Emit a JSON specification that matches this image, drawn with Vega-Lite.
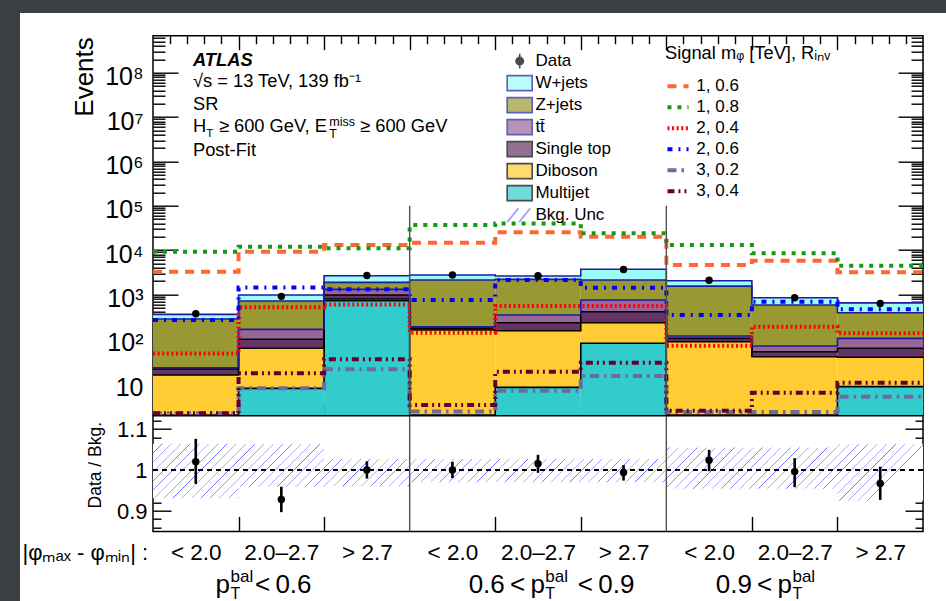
{
  "$schema": "https://vega.github.io/schema/vega-lite/v6.json",
  "background": "white",
  "padding": 0,
  "config": {
    "font": "Liberation Sans",
    "view": {"stroke": "black", "strokeWidth": 1.5},
    "axis": {"domain": false, "grid": false, "tickColor": "black", "tickWidth": 1.4, "labelColor": "black", "titleColor": "black", "labelFont": "Liberation Sans", "titleFont": "Liberation Sans", "titleFontWeight": "normal", "labelFlush": false, "labelOverlap": false, "labelBound": false},
    "legend": {"labelFont": "Liberation Sans", "titleFont": "Liberation Sans", "labelColor": "black", "titleColor": "black", "titleFontWeight": "normal", "padding": 0},
    "text": {"color": "black"}
  },
  "datasets": {
    "bkg": [
      {"lo": 0, "hi": 1, "entry": "Multijet", "n": 1.0},
      {"lo": 0, "hi": 1, "entry": "Diboson", "n": 14.4},
      {"lo": 0, "hi": 1, "entry": "Single top", "n": 5.6},
      {"lo": 0, "hi": 1, "entry": "tt\u0304", "n": 1.4},
      {"lo": 0, "hi": 1, "entry": "Z+jets", "n": 258.6},
      {"lo": 0, "hi": 1, "entry": "W+jets", "n": 77},
      {"lo": 1, "hi": 2, "entry": "Multijet", "n": 7.7},
      {"lo": 1, "hi": 2, "entry": "Diboson", "n": 53.7},
      {"lo": 1, "hi": 2, "entry": "Single top", "n": 36.6},
      {"lo": 1, "hi": 2, "entry": "tt\u0304", "n": 66},
      {"lo": 1, "hi": 2, "entry": "Z+jets", "n": 550},
      {"lo": 1, "hi": 2, "entry": "W+jets", "n": 261},
      {"lo": 2, "hi": 3, "entry": "Multijet", "n": 725},
      {"lo": 2, "hi": 3, "entry": "Diboson", "n": 67},
      {"lo": 2, "hi": 3, "entry": "Single top", "n": 183},
      {"lo": 2, "hi": 3, "entry": "tt\u0304", "n": 335},
      {"lo": 2, "hi": 3, "entry": "Z+jets", "n": 573},
      {"lo": 2, "hi": 3, "entry": "W+jets", "n": 767},
      {"lo": 3, "hi": 4, "entry": "Multijet", "n": 1.5},
      {"lo": 3, "hi": 4, "entry": "Diboson", "n": 157.5},
      {"lo": 3, "hi": 4, "entry": "Single top", "n": 16},
      {"lo": 3, "hi": 4, "entry": "tt\u0304", "n": 13},
      {"lo": 3, "hi": 4, "entry": "Z+jets", "n": 1932},
      {"lo": 3, "hi": 4, "entry": "W+jets", "n": 630},
      {"lo": 4, "hi": 5, "entry": "Multijet", "n": 8.1},
      {"lo": 4, "hi": 5, "entry": "Diboson", "n": 144.9},
      {"lo": 4, "hi": 5, "entry": "Single top", "n": 79},
      {"lo": 4, "hi": 5, "entry": "tt\u0304", "n": 113},
      {"lo": 4, "hi": 5, "entry": "Z+jets", "n": 1855},
      {"lo": 4, "hi": 5, "entry": "W+jets", "n": 410},
      {"lo": 5, "hi": 6, "entry": "Multijet", "n": 80},
      {"lo": 5, "hi": 6, "entry": "Diboson", "n": 152},
      {"lo": 5, "hi": 6, "entry": "Single top", "n": 178},
      {"lo": 5, "hi": 6, "entry": "tt\u0304", "n": 342},
      {"lo": 5, "hi": 6, "entry": "Z+jets", "n": 1368},
      {"lo": 5, "hi": 6, "entry": "W+jets", "n": 1580},
      {"lo": 6, "hi": 7, "entry": "Multijet", "n": 1.5},
      {"lo": 6, "hi": 7, "entry": "Diboson", "n": 85},
      {"lo": 6, "hi": 7, "entry": "Single top", "n": 16.5},
      {"lo": 6, "hi": 7, "entry": "tt\u0304", "n": 13},
      {"lo": 6, "hi": 7, "entry": "Z+jets", "n": 1434},
      {"lo": 6, "hi": 7, "entry": "W+jets", "n": 500},
      {"lo": 7, "hi": 8, "entry": "Multijet", "n": 1.5},
      {"lo": 7, "hi": 8, "entry": "Diboson", "n": 38.2},
      {"lo": 7, "hi": 8, "entry": "Single top", "n": 11.8},
      {"lo": 7, "hi": 8, "entry": "tt\u0304", "n": 17.5},
      {"lo": 7, "hi": 8, "entry": "Z+jets", "n": 512},
      {"lo": 7, "hi": 8, "entry": "W+jets", "n": 267},
      {"lo": 8, "hi": 9, "entry": "Multijet", "n": 8.4},
      {"lo": 8, "hi": 9, "entry": "Diboson", "n": 30.1},
      {"lo": 8, "hi": 9, "entry": "Single top", "n": 22.9},
      {"lo": 8, "hi": 9, "entry": "tt\u0304", "n": 41.6},
      {"lo": 8, "hi": 9, "entry": "Z+jets", "n": 286},
      {"lo": 8, "hi": 9, "entry": "W+jets", "n": 261}
    ],
    "signal": [
      {"lo": 0, "hi": 1, "signal": "1, 0.6", "n": 3270},
      {"lo": 1, "hi": 2, "signal": "1, 0.6", "n": 9200},
      {"lo": 2, "hi": 3, "signal": "1, 0.6", "n": 13000},
      {"lo": 3, "hi": 4, "signal": "1, 0.6", "n": 14700},
      {"lo": 4, "hi": 5, "signal": "1, 0.6", "n": 25200},
      {"lo": 5, "hi": 6, "signal": "1, 0.6", "n": 20000},
      {"lo": 6, "hi": 7, "signal": "1, 0.6", "n": 4610},
      {"lo": 7, "hi": 8, "signal": "1, 0.6", "n": 5770},
      {"lo": 8, "hi": 9, "signal": "1, 0.6", "n": 3160},
      {"lo": 0, "hi": 1, "signal": "1, 0.8", "n": 9200},
      {"lo": 1, "hi": 2, "signal": "1, 0.8", "n": 11900},
      {"lo": 2, "hi": 3, "signal": "1, 0.8", "n": 11000},
      {"lo": 3, "hi": 4, "signal": "1, 0.8", "n": 36700},
      {"lo": 4, "hi": 5, "signal": "1, 0.8", "n": 40100},
      {"lo": 5, "hi": 6, "signal": "1, 0.8", "n": 23900},
      {"lo": 6, "hi": 7, "signal": "1, 0.8", "n": 13000},
      {"lo": 7, "hi": 8, "signal": "1, 0.8", "n": 8470},
      {"lo": 8, "hi": 9, "signal": "1, 0.8", "n": 4450},
      {"lo": 0, "hi": 1, "signal": "2, 0.4", "n": 47},
      {"lo": 1, "hi": 2, "signal": "2, 0.4", "n": 515},
      {"lo": 2, "hi": 3, "signal": "2, 0.4", "n": 600},
      {"lo": 3, "hi": 4, "signal": "2, 0.4", "n": 138},
      {"lo": 4, "hi": 5, "signal": "2, 0.4", "n": 550},
      {"lo": 5, "hi": 6, "signal": "2, 0.4", "n": 550},
      {"lo": 6, "hi": 7, "signal": "2, 0.4", "n": 70},
      {"lo": 7, "hi": 8, "signal": "2, 0.4", "n": 188},
      {"lo": 8, "hi": 9, "signal": "2, 0.4", "n": 134},
      {"lo": 0, "hi": 1, "signal": "2, 0.6", "n": 267},
      {"lo": 1, "hi": 2, "signal": "2, 0.6", "n": 1450},
      {"lo": 2, "hi": 3, "signal": "2, 0.6", "n": 1310},
      {"lo": 3, "hi": 4, "signal": "2, 0.6", "n": 752},
      {"lo": 4, "hi": 5, "signal": "2, 0.6", "n": 2120},
      {"lo": 5, "hi": 6, "signal": "2, 0.6", "n": 1420},
      {"lo": 6, "hi": 7, "signal": "2, 0.6", "n": 345},
      {"lo": 7, "hi": 8, "signal": "2, 0.6", "n": 689},
      {"lo": 8, "hi": 9, "signal": "2, 0.6", "n": 464},
      {"lo": 0, "hi": 1, "signal": "3, 0.2", "n": 2.1},
      {"lo": 1, "hi": 2, "signal": "3, 0.2", "n": 7.7},
      {"lo": 2, "hi": 3, "signal": "3, 0.2", "n": 20.7},
      {"lo": 3, "hi": 4, "signal": "3, 0.2", "n": 2.3},
      {"lo": 4, "hi": 5, "signal": "3, 0.2", "n": 6.8},
      {"lo": 5, "hi": 6, "signal": "3, 0.2", "n": 14.6},
      {"lo": 6, "hi": 7, "signal": "3, 0.2", "n": 2.26},
      {"lo": 7, "hi": 8, "signal": "3, 0.2", "n": 2.26},
      {"lo": 8, "hi": 9, "signal": "3, 0.2", "n": 5.0},
      {"lo": 0, "hi": 1, "signal": "3, 0.4", "n": 2.1},
      {"lo": 1, "hi": 2, "signal": "3, 0.4", "n": 16.8},
      {"lo": 2, "hi": 3, "signal": "3, 0.4", "n": 34.8},
      {"lo": 3, "hi": 4, "signal": "3, 0.4", "n": 3.24},
      {"lo": 4, "hi": 5, "signal": "3, 0.4", "n": 18.2},
      {"lo": 5, "hi": 6, "signal": "3, 0.4", "n": 29.1},
      {"lo": 6, "hi": 7, "signal": "3, 0.4", "n": 2.4},
      {"lo": 7, "hi": 8, "signal": "3, 0.4", "n": 6.1},
      {"lo": 8, "hi": 9, "signal": "3, 0.4", "n": 10.3}
    ],
    "counts": [
      {"lo": 0, "hi": 1, "n": 370},
      {"lo": 1, "hi": 2, "n": 910},
      {"lo": 2, "hi": 3, "n": 2680},
      {"lo": 3, "hi": 4, "n": 2750},
      {"lo": 4, "hi": 5, "n": 2650},
      {"lo": 5, "hi": 6, "n": 3680},
      {"lo": 6, "hi": 7, "n": 2100},
      {"lo": 7, "hi": 8, "n": 845},
      {"lo": 8, "hi": 9, "n": 629}
    ],
    "ratio": [
      {"lo": 0, "hi": 1, "ratio": 1.02, "low": 0.966, "high": 1.076},
      {"lo": 1, "hi": 2, "ratio": 0.928, "low": 0.897, "high": 0.959},
      {"lo": 2, "hi": 3, "ratio": 1.0, "low": 0.979, "high": 1.021},
      {"lo": 3, "hi": 4, "ratio": 1.0, "low": 0.98, "high": 1.02},
      {"lo": 4, "hi": 5, "ratio": 1.015, "low": 0.993, "high": 1.037},
      {"lo": 5, "hi": 6, "ratio": 0.994, "low": 0.974, "high": 1.012},
      {"lo": 6, "hi": 7, "ratio": 1.024, "low": 0.997, "high": 1.049},
      {"lo": 7, "hi": 8, "ratio": 0.996, "low": 0.958, "high": 1.029},
      {"lo": 8, "hi": 9, "ratio": 0.967, "low": 0.927, "high": 1.008}
    ],
    "unc": [
      {"lo": 0, "hi": 1, "low": 0.931, "high": 1.064},
      {"lo": 1, "hi": 2, "low": 0.959, "high": 1.063},
      {"lo": 2, "hi": 3, "low": 0.96, "high": 1.027},
      {"lo": 3, "hi": 4, "low": 0.97, "high": 1.027},
      {"lo": 4, "hi": 5, "low": 0.97, "high": 1.027},
      {"lo": 5, "hi": 6, "low": 0.97, "high": 1.027},
      {"lo": 6, "hi": 7, "low": 0.954, "high": 1.055},
      {"lo": 7, "hi": 8, "low": 0.954, "high": 1.055},
      {"lo": 8, "hi": 9, "low": 0.925, "high": 1.063}
    ],
    "edges": [{"edge": 3}, {"edge": 6}]
  },
  "hconcat": [
    {"width": 20, "height": 601, "data": {"values": []}, "mark": "point", "view": {"fill": "#3d4043", "stroke": null}},
    {
      "vconcat": [
        {"width": 926, "height": 13, "data": {"values": []}, "mark": "point", "view": {"fill": "#3d4043", "stroke": null}},
        {
          "hconcat": [
            {"width": 1, "height": 1, "data": {"values": []}, "mark": "point", "view": {"fill": null, "stroke": null}},
            {
              "vconcat": [
                {
                  "width": 770,
                  "height": 379.3,
                  "layer": [
                    {
                      "data": {"name": "bkg"},
                      "transform": [{"stack": "n", "groupby": ["lo"], "as": ["s0", "s1"]}],
                      "mark": {"type": "rect", "clip": true},
                      "encoding": {
                        "x": {"field": "lo", "type": "quantitative", "scale": {"domain": [0, 9], "nice": false, "zero": false},
                              "axis": {"orient": "bottom", "values": [1, 2, 3, 4, 5, 6, 7, 8], "tickSize": -13, "labels": false, "title": null}},
                        "x2": {"field": "hi"},
                        "y": {"field": "s1", "type": "quantitative", "scale": {"type": "log", "domain": [1.93, 680000000], "nice": false, "clamp": true},
                              "axis": {"orient": "left", "values": [10, 100, 1000, 10000, 100000, 1000000, 10000000, 100000000], "ticks": false,
                                       "labelExpr": "round(log(datum.value)/LN10) == 1 ? '10' : '10' + ['⁰','¹','²','³','⁴','⁵','⁶','⁷','⁸','⁹'][round(log(datum.value)/LN10)]",
                                       "labelFontSize": 25, "labelPadding": 10, "labelBaseline": "alphabetic", "labelOffset": 12, "labelAlign": "right",
                                       "title": "Events", "titleFontSize": 26, "titleAngle": 270, "titleAlign": "right", "titleBaseline": "alphabetic", "titleX": -61, "titleY": 1}},
                        "y2": {"field": "s0"},
                        "fill": {"field": "entry", "type": "nominal",
                                 "scale": {"domain": ["Data", "W+jets", "Z+jets", "tt\u0304", "Single top", "Diboson", "Multijet", "Bkg. Unc"],
                                           "range": ["black", "#9cfcfc", "#999933", "#996699", "#663366", "#ffcc33", "#33cccc", "white"]},
                                 "legend": {"title": null, "orient": "none", "legendX": 508.7, "legendY": 50.1, "symbolSize": 384, "symbolStrokeWidth": 1.6, "labelFontSize": 17, "labelOffset": 4.7, "rowPadding": 0}}
                      }
                    },
                    {
                      "data": {"name": "bkg"},
                      "transform": [{"stack": "n", "groupby": ["lo"], "as": ["s0", "s1"]}, {"fold": ["lo", "hi"], "as": ["side", "edge"]}],
                      "mark": {"type": "line", "clip": true, "strokeWidth": 1.6},
                      "encoding": {
                        "x": {"field": "edge", "type": "quantitative",
                              "axis": {"orient": "bottom", "values": [0.2, 0.4, 0.6, 0.8, 1.2, 1.4, 1.6, 1.8, 2.2, 2.4, 2.6, 2.8, 3.2, 3.4, 3.6, 3.8, 4.2, 4.4, 4.6, 4.8, 5.2, 5.4, 5.6, 5.8, 6.2, 6.4, 6.6, 6.8, 7.2, 7.4, 7.6, 7.8, 8.2, 8.4, 8.6, 8.8], "tickSize": -7, "labels": false, "title": null}},
                        "y": {"field": "s1", "type": "quantitative",
                              "axis": {"orient": "left", "values": [10, 100, 1000, 10000, 100000, 1000000, 10000000, 100000000], "tickSize": -25, "labels": false, "title": null}},
                        "detail": {"field": "entry"},
                        "stroke": {"field": "entry", "type": "nominal",
                                   "scale": {"domain": ["Data", "W+jets", "Z+jets", "tt\u0304", "Single top", "Diboson", "Multijet", "Bkg. Unc"],
                                             "range": ["black", "#1c1c9c", "#1c1c9c", "#1c1c9c", "black", "black", "black", "#7373f2"]},
                                   "legend": {"title": null, "orient": "none", "legendX": 508.7, "legendY": 50.1, "symbolSize": 384, "symbolStrokeWidth": 1.6, "labelFontSize": 17, "labelOffset": 4.7, "rowPadding": 0}},
                        "order": [{"field": "edge", "type": "quantitative"}, {"field": "lo", "type": "quantitative"}]
                      }
                    },
                    {
                      "data": {"name": "signal"},
                      "transform": [{"fold": ["lo", "hi"], "as": ["side", "edge"]}],
                      "mark": {"type": "line", "clip": true, "strokeWidth": 4},
                      "encoding": {
                        "x": {"field": "edge", "type": "quantitative",
                              "axis": {"orient": "top", "values": [1, 2, 3, 4, 5, 6, 7, 8], "tickSize": -14, "labels": false, "title": null}},
                        "y": {"field": "n", "type": "quantitative",
                              "axis": {"orient": "left", "values": [2, 3, 4, 5, 6, 7, 8, 9, 20, 30, 40, 50, 60, 70, 80, 90, 200, 300, 400, 500, 600, 700, 800, 900, 2000, 3000, 4000, 5000, 6000, 7000, 8000, 9000, 20000, 30000, 40000, 50000, 60000, 70000, 80000, 90000, 200000, 300000, 400000, 500000, 600000, 700000, 800000, 900000, 2000000, 3000000, 4000000, 5000000, 6000000, 7000000, 8000000, 9000000, 20000000, 30000000, 40000000, 50000000, 60000000, 70000000, 80000000, 90000000, 200000000, 300000000, 400000000, 500000000, 600000000], "tickSize": -12, "labels": false, "title": null}},
                        "color": {"field": "signal", "type": "nominal",
                                  "scale": {"domain": ["1, 0.6", "1, 0.8", "2, 0.4", "2, 0.6", "3, 0.2", "3, 0.4"],
                                            "range": ["#ff6633", "#139a13", "#ff0000", "#0000ff", "#6b6b9e", "#66002e"]},
                                  "legend": {"title": "Signal mᵩ [TeV], Rᵢₙᵥ", "orient": "none", "legendX": 665, "legendY": 44.5, "symbolType": "stroke", "symbolSize": 445, "symbolStrokeWidth": 4, "labelFontSize": 17, "titleFontSize": 18.3, "titlePadding": 10.5, "rowPadding": 0, "labelOffset": 5.3}},
                        "strokeDash": {"field": "signal", "type": "nominal",
                                       "scale": {"domain": ["1, 0.6", "1, 0.8", "2, 0.4", "2, 0.6", "3, 0.2", "3, 0.4"],
                                                 "range": [[9, 7], [4, 6], [2, 2.6], [5, 6, 2, 6], [9, 5, 2.5, 5], [7, 4, 2, 4, 2, 4]]},
                                       "legend": {"title": "Signal mᵩ [TeV], Rᵢₙᵥ", "orient": "none", "legendX": 665, "legendY": 44.5, "symbolType": "stroke", "symbolSize": 445, "symbolStrokeWidth": 4, "labelFontSize": 17, "titleFontSize": 18.3, "titlePadding": 10.5, "rowPadding": 0, "labelOffset": 5.3}},
                        "order": [{"field": "edge", "type": "quantitative"}, {"field": "lo", "type": "quantitative"}]
                      }
                    },
                    {
                      "data": {"name": "counts"},
                      "mark": {"type": "point", "filled": true, "color": "black", "size": 55, "opacity": 1, "clip": true},
                      "encoding": {
                        "x": {"field": "lo", "type": "quantitative", "bin": "binned",
                              "axis": {"orient": "top", "values": [0.2, 0.4, 0.6, 0.8, 1.2, 1.4, 1.6, 1.8, 2.2, 2.4, 2.6, 2.8, 3.2, 3.4, 3.6, 3.8, 4.2, 4.4, 4.6, 4.8, 5.2, 5.4, 5.6, 5.8, 6.2, 6.4, 6.6, 6.8, 7.2, 7.4, 7.6, 7.8, 8.2, 8.4, 8.6, 8.8], "tickSize": -8, "labels": false, "title": null}},
                        "x2": {"field": "hi"},
                        "y": {"field": "n", "type": "quantitative",
                              "axis": {"orient": "right", "values": [10, 100, 1000, 10000, 100000, 1000000, 10000000, 100000000], "tickSize": -25, "labels": false, "title": null}}
                      }
                    },
                    {
                      "data": {"name": "edges"},
                      "mark": {"type": "rule", "color": "#505050", "strokeWidth": 1.4, "clip": true},
                      "encoding": {
                        "x": {"field": "edge", "type": "quantitative", "axis": null},
                        "y": {"datum": 100000, "type": "quantitative",
                              "axis": {"orient": "right", "values": [2, 3, 4, 5, 6, 7, 8, 9, 20, 30, 40, 50, 60, 70, 80, 90, 200, 300, 400, 500, 600, 700, 800, 900, 2000, 3000, 4000, 5000, 6000, 7000, 8000, 9000, 20000, 30000, 40000, 50000, 60000, 70000, 80000, 90000, 200000, 300000, 400000, 500000, 600000, 700000, 800000, 900000, 2000000, 3000000, 4000000, 5000000, 6000000, 7000000, 8000000, 9000000, 20000000, 30000000, 40000000, 50000000, 60000000, 70000000, 80000000, 90000000, 200000000, 300000000, 400000000, 500000000, 600000000], "tickSize": -12, "labels": false, "title": null}},
                        "y2": {"datum": 1}
                      }
                    },
                    {
                      "data": {"name": "counts"},
                      "transform": [{"filter": "datum.n < 0"}],
                      "mark": {"type": "point", "filled": true},
                      "encoding": {
                        "fill": {"field": "entry", "type": "nominal",
                                 "scale": {"domain": ["Data", "W+jets", "Z+jets", "tt\u0304", "Single top", "Diboson", "Multijet", "Bkg. Unc"],
                                           "range": ["black", "#9cfcfc", "#999933", "#996699", "#663366", "#ffcc33", "#33cccc", "white"]},
                                 "legend": {"title": null, "orient": "none", "legendX": 508.7, "legendY": 50.1, "symbolSize": 384, "symbolStrokeWidth": 1.6, "labelFontSize": 17, "labelOffset": 4.7, "rowPadding": 0}},
                        "stroke": {"field": "entry", "type": "nominal",
                                   "scale": {"domain": ["Data", "W+jets", "Z+jets", "tt\u0304", "Single top", "Diboson", "Multijet", "Bkg. Unc"],
                                             "range": ["black", "#1c1c9c", "#1c1c9c", "#1c1c9c", "black", "black", "black", "#7373f2"]},
                                   "legend": {"title": null, "orient": "none", "legendX": 508.7, "legendY": 50.1, "symbolSize": 384, "symbolStrokeWidth": 1.6, "labelFontSize": 17, "labelOffset": 4.7, "rowPadding": 0}},
                        "shape": {"field": "entry", "type": "nominal",
                                  "scale": {"domain": ["Data", "W+jets", "Z+jets", "tt\u0304", "Single top", "Diboson", "Multijet", "Bkg. Unc"],
                                            "range": ["M0,-0.76L0,0.76M-0.38,0A0.38,0.38,0,1,0,0.38,0A0.38,0.38,0,1,0,-0.38,0Z",
                                                      "M-1.276,-0.765L1.276,-0.765L1.276,0.765L-1.276,0.765Z", "M-1.276,-0.765L1.276,-0.765L1.276,0.765L-1.276,0.765Z", "M-1.276,-0.765L1.276,-0.765L1.276,0.765L-1.276,0.765Z",
                                                      "M-1.276,-0.765L1.276,-0.765L1.276,0.765L-1.276,0.765Z", "M-1.276,-0.765L1.276,-0.765L1.276,0.765L-1.276,0.765Z", "M-1.276,-0.765L1.276,-0.765L1.276,0.765L-1.276,0.765Z",
                                                      "M-1.27,0.71L-0.13,-0.71M-0.065,0.71L1.087,-0.71"]},
                                  "legend": {"title": null, "orient": "none", "legendX": 508.7, "legendY": 50.1, "symbolSize": 384, "symbolStrokeWidth": 1.6, "labelFontSize": 17, "labelOffset": 4.7, "rowPadding": 0}}
                      }
                    },
                    {
                      "data": {"values": [{}]},
                      "mark": {"type": "text", "text": "ATLAS", "align": "left", "baseline": "alphabetic", "fontSize": 18.3, "fontWeight": "bold", "fontStyle": "italic", "dy": -6.7},
                      "encoding": {"x": {"datum": 0.4675, "type": "quantitative", "axis": null}, "y": {"datum": 100000000, "type": "quantitative", "axis": null}}
                    },
                    {
                      "data": {"values": [{}]},
                      "mark": {"type": "text", "text": ["√s = 13 TeV, 139 fb⁻¹", "SR"], "align": "left", "baseline": "alphabetic", "fontSize": 18.3, "lineHeight": 22.5, "dy": 14.8},
                      "encoding": {"x": {"datum": 0.4675, "type": "quantitative", "axis": null}, "y": {"datum": 100000000, "type": "quantitative", "axis": null}}
                    },
                    {
                      "data": {"values": [{}]},
                      "mark": {"type": "text", "text": "H", "align": "left", "baseline": "alphabetic", "fontSize": 18.3, "dy": 59.8},
                      "encoding": {"x": {"datum": 0.4675, "type": "quantitative", "axis": null}, "y": {"datum": 100000000, "type": "quantitative", "axis": null}}
                    },
                    {
                      "data": {"values": [{}]},
                      "mark": {"type": "text", "text": "T", "align": "left", "baseline": "alphabetic", "fontSize": 11.5, "dx": 13.2, "dy": 64.8},
                      "encoding": {"x": {"datum": 0.4675, "type": "quantitative", "axis": null}, "y": {"datum": 100000000, "type": "quantitative", "axis": null}}
                    },
                    {
                      "data": {"values": [{}]},
                      "mark": {"type": "text", "text": "≥ 600 GeV, E", "align": "left", "baseline": "alphabetic", "fontSize": 18.3, "dx": 25.9, "dy": 59.8},
                      "encoding": {"x": {"datum": 0.4675, "type": "quantitative", "axis": null}, "y": {"datum": 100000000, "type": "quantitative", "axis": null}}
                    },
                    {
                      "data": {"values": [{}]},
                      "mark": {"type": "text", "text": ["miss", "T"], "align": "left", "baseline": "alphabetic", "fontSize": 12.5, "lineHeight": 12.5, "dx": 136.3, "dy": 53.3},
                      "encoding": {"x": {"datum": 0.4675, "type": "quantitative", "axis": null}, "y": {"datum": 100000000, "type": "quantitative", "axis": null}}
                    },
                    {
                      "data": {"values": [{}]},
                      "mark": {"type": "text", "text": "≥ 600 GeV", "align": "left", "baseline": "alphabetic", "fontSize": 18.3, "dx": 167.1, "dy": 59.8},
                      "encoding": {"x": {"datum": 0.4675, "type": "quantitative", "axis": null}, "y": {"datum": 100000000, "type": "quantitative", "axis": null}}
                    },
                    {
                      "data": {"values": [{}]},
                      "mark": {"type": "text", "text": "Post-Fit", "align": "left", "baseline": "alphabetic", "fontSize": 18.3, "dy": 83.6},
                      "encoding": {"x": {"datum": 0.4675, "type": "quantitative", "axis": null}, "y": {"datum": 100000000, "type": "quantitative", "axis": null}}
                    }
                  ],
                  "resolve": {"axis": {"x": "independent", "y": "independent"}}
                },
                {
                  "width": 770,
                  "height": 115.7,
                  "layer": [
                    {
                      "data": {"name": "unc"},
                      "transform": [{"fold": ["lo", "hi"], "as": ["side", "edge"]}],
                      "mark": {"type": "area", "clip": true,
                               "fill": {"gradient": "linear", "x1": 0, "y1": 0, "x2": 1, "y2": 0.074, "stops": [
{"offset":0,"color":"#66f"},{"offset":0.0009,"color":"#fff"},{"offset":0.0111,"color":"#fff"},
{"offset":0.012,"color":"#66f"},{"offset":0.0129,"color":"#fff"},{"offset":0.0231,"color":"#fff"},
{"offset":0.024,"color":"#66f"},{"offset":0.0249,"color":"#fff"},{"offset":0.0351,"color":"#fff"},
{"offset":0.036,"color":"#66f"},{"offset":0.0369,"color":"#fff"},{"offset":0.0471,"color":"#fff"},
{"offset":0.048,"color":"#66f"},{"offset":0.0489,"color":"#fff"},{"offset":0.0591,"color":"#fff"},
{"offset":0.06,"color":"#66f"},{"offset":0.0609,"color":"#fff"},{"offset":0.0711,"color":"#fff"},
{"offset":0.072,"color":"#66f"},{"offset":0.0729,"color":"#fff"},{"offset":0.0831,"color":"#fff"},
{"offset":0.084,"color":"#66f"},{"offset":0.0849,"color":"#fff"},{"offset":0.0951,"color":"#fff"},
{"offset":0.096,"color":"#66f"},{"offset":0.0969,"color":"#fff"},{"offset":0.1071,"color":"#fff"},
{"offset":0.108,"color":"#66f"},{"offset":0.1089,"color":"#fff"},{"offset":0.1191,"color":"#fff"},
{"offset":0.12,"color":"#66f"},{"offset":0.1209,"color":"#fff"},{"offset":0.1311,"color":"#fff"},
{"offset":0.132,"color":"#66f"},{"offset":0.1329,"color":"#fff"},{"offset":0.1431,"color":"#fff"},
{"offset":0.144,"color":"#66f"},{"offset":0.1449,"color":"#fff"},{"offset":0.1551,"color":"#fff"},
{"offset":0.156,"color":"#66f"},{"offset":0.1569,"color":"#fff"},{"offset":0.1671,"color":"#fff"},
{"offset":0.168,"color":"#66f"},{"offset":0.1689,"color":"#fff"},{"offset":0.1791,"color":"#fff"},
{"offset":0.18,"color":"#66f"},{"offset":0.1809,"color":"#fff"},{"offset":0.1911,"color":"#fff"},
{"offset":0.192,"color":"#66f"},{"offset":0.1929,"color":"#fff"},{"offset":0.2031,"color":"#fff"},
{"offset":0.204,"color":"#66f"},{"offset":0.2049,"color":"#fff"},{"offset":0.2151,"color":"#fff"},
{"offset":0.216,"color":"#66f"},{"offset":0.2169,"color":"#fff"},{"offset":0.2271,"color":"#fff"},
{"offset":0.228,"color":"#66f"},{"offset":0.2289,"color":"#fff"},{"offset":0.2391,"color":"#fff"},
{"offset":0.24,"color":"#66f"},{"offset":0.2409,"color":"#fff"},{"offset":0.2511,"color":"#fff"},
{"offset":0.252,"color":"#66f"},{"offset":0.2529,"color":"#fff"},{"offset":0.2631,"color":"#fff"},
{"offset":0.264,"color":"#66f"},{"offset":0.2649,"color":"#fff"},{"offset":0.2751,"color":"#fff"},
{"offset":0.276,"color":"#66f"},{"offset":0.2769,"color":"#fff"},{"offset":0.2871,"color":"#fff"},
{"offset":0.288,"color":"#66f"},{"offset":0.2889,"color":"#fff"},{"offset":0.2991,"color":"#fff"},
{"offset":0.3,"color":"#66f"},{"offset":0.3009,"color":"#fff"},{"offset":0.3111,"color":"#fff"},
{"offset":0.312,"color":"#66f"},{"offset":0.3129,"color":"#fff"},{"offset":0.3231,"color":"#fff"},
{"offset":0.324,"color":"#66f"},{"offset":0.3249,"color":"#fff"},{"offset":0.3351,"color":"#fff"},
{"offset":0.336,"color":"#66f"},{"offset":0.3369,"color":"#fff"},{"offset":0.3471,"color":"#fff"},
{"offset":0.348,"color":"#66f"},{"offset":0.3489,"color":"#fff"},{"offset":0.3591,"color":"#fff"},
{"offset":0.36,"color":"#66f"},{"offset":0.3609,"color":"#fff"},{"offset":0.3711,"color":"#fff"},
{"offset":0.372,"color":"#66f"},{"offset":0.3729,"color":"#fff"},{"offset":0.3831,"color":"#fff"},
{"offset":0.384,"color":"#66f"},{"offset":0.3849,"color":"#fff"},{"offset":0.3951,"color":"#fff"},
{"offset":0.396,"color":"#66f"},{"offset":0.3969,"color":"#fff"},{"offset":0.4071,"color":"#fff"},
{"offset":0.408,"color":"#66f"},{"offset":0.4089,"color":"#fff"},{"offset":0.4191,"color":"#fff"},
{"offset":0.42,"color":"#66f"},{"offset":0.4209,"color":"#fff"},{"offset":0.4311,"color":"#fff"},
{"offset":0.432,"color":"#66f"},{"offset":0.4329,"color":"#fff"},{"offset":0.4431,"color":"#fff"},
{"offset":0.444,"color":"#66f"},{"offset":0.4449,"color":"#fff"},{"offset":0.4551,"color":"#fff"},
{"offset":0.456,"color":"#66f"},{"offset":0.4569,"color":"#fff"},{"offset":0.4671,"color":"#fff"},
{"offset":0.468,"color":"#66f"},{"offset":0.4689,"color":"#fff"},{"offset":0.4791,"color":"#fff"},
{"offset":0.48,"color":"#66f"},{"offset":0.4809,"color":"#fff"},{"offset":0.4911,"color":"#fff"},
{"offset":0.492,"color":"#66f"},{"offset":0.4929,"color":"#fff"},{"offset":0.5031,"color":"#fff"},
{"offset":0.504,"color":"#66f"},{"offset":0.5049,"color":"#fff"},{"offset":0.5151,"color":"#fff"},
{"offset":0.516,"color":"#66f"},{"offset":0.5169,"color":"#fff"},{"offset":0.5271,"color":"#fff"},
{"offset":0.528,"color":"#66f"},{"offset":0.5289,"color":"#fff"},{"offset":0.5391,"color":"#fff"},
{"offset":0.54,"color":"#66f"},{"offset":0.5409,"color":"#fff"},{"offset":0.5511,"color":"#fff"},
{"offset":0.552,"color":"#66f"},{"offset":0.5529,"color":"#fff"},{"offset":0.5631,"color":"#fff"},
{"offset":0.564,"color":"#66f"},{"offset":0.5649,"color":"#fff"},{"offset":0.5751,"color":"#fff"},
{"offset":0.576,"color":"#66f"},{"offset":0.5769,"color":"#fff"},{"offset":0.5871,"color":"#fff"},
{"offset":0.588,"color":"#66f"},{"offset":0.5889,"color":"#fff"},{"offset":0.5991,"color":"#fff"},
{"offset":0.6,"color":"#66f"},{"offset":0.6009,"color":"#fff"},{"offset":0.6111,"color":"#fff"},
{"offset":0.612,"color":"#66f"},{"offset":0.6129,"color":"#fff"},{"offset":0.6231,"color":"#fff"},
{"offset":0.624,"color":"#66f"},{"offset":0.6249,"color":"#fff"},{"offset":0.6351,"color":"#fff"},
{"offset":0.636,"color":"#66f"},{"offset":0.6369,"color":"#fff"},{"offset":0.6471,"color":"#fff"},
{"offset":0.648,"color":"#66f"},{"offset":0.6489,"color":"#fff"},{"offset":0.6591,"color":"#fff"},
{"offset":0.66,"color":"#66f"},{"offset":0.6609,"color":"#fff"},{"offset":0.6711,"color":"#fff"},
{"offset":0.672,"color":"#66f"},{"offset":0.6729,"color":"#fff"},{"offset":0.6831,"color":"#fff"},
{"offset":0.684,"color":"#66f"},{"offset":0.6849,"color":"#fff"},{"offset":0.6951,"color":"#fff"},
{"offset":0.696,"color":"#66f"},{"offset":0.6969,"color":"#fff"},{"offset":0.7071,"color":"#fff"},
{"offset":0.708,"color":"#66f"},{"offset":0.7089,"color":"#fff"},{"offset":0.7191,"color":"#fff"},
{"offset":0.72,"color":"#66f"},{"offset":0.7209,"color":"#fff"},{"offset":0.7311,"color":"#fff"},
{"offset":0.732,"color":"#66f"},{"offset":0.7329,"color":"#fff"},{"offset":0.7431,"color":"#fff"},
{"offset":0.744,"color":"#66f"},{"offset":0.7449,"color":"#fff"},{"offset":0.7551,"color":"#fff"},
{"offset":0.756,"color":"#66f"},{"offset":0.7569,"color":"#fff"},{"offset":0.7671,"color":"#fff"},
{"offset":0.768,"color":"#66f"},{"offset":0.7689,"color":"#fff"},{"offset":0.7791,"color":"#fff"},
{"offset":0.78,"color":"#66f"},{"offset":0.7809,"color":"#fff"},{"offset":0.7911,"color":"#fff"},
{"offset":0.792,"color":"#66f"},{"offset":0.7929,"color":"#fff"},{"offset":0.8031,"color":"#fff"},
{"offset":0.804,"color":"#66f"},{"offset":0.8049,"color":"#fff"},{"offset":0.8151,"color":"#fff"},
{"offset":0.816,"color":"#66f"},{"offset":0.8169,"color":"#fff"},{"offset":0.8271,"color":"#fff"},
{"offset":0.828,"color":"#66f"},{"offset":0.8289,"color":"#fff"},{"offset":0.8391,"color":"#fff"},
{"offset":0.84,"color":"#66f"},{"offset":0.8409,"color":"#fff"},{"offset":0.8511,"color":"#fff"},
{"offset":0.852,"color":"#66f"},{"offset":0.8529,"color":"#fff"},{"offset":0.8631,"color":"#fff"},
{"offset":0.864,"color":"#66f"},{"offset":0.8649,"color":"#fff"},{"offset":0.8751,"color":"#fff"},
{"offset":0.876,"color":"#66f"},{"offset":0.8769,"color":"#fff"},{"offset":0.8871,"color":"#fff"},
{"offset":0.888,"color":"#66f"},{"offset":0.8889,"color":"#fff"},{"offset":0.8991,"color":"#fff"},
{"offset":0.9,"color":"#66f"},{"offset":0.9009,"color":"#fff"},{"offset":0.9111,"color":"#fff"},
{"offset":0.912,"color":"#66f"},{"offset":0.9129,"color":"#fff"},{"offset":0.9231,"color":"#fff"},
{"offset":0.924,"color":"#66f"},{"offset":0.9249,"color":"#fff"},{"offset":0.9351,"color":"#fff"},
{"offset":0.936,"color":"#66f"},{"offset":0.9369,"color":"#fff"},{"offset":0.9471,"color":"#fff"},
{"offset":0.948,"color":"#66f"},{"offset":0.9489,"color":"#fff"},{"offset":0.9591,"color":"#fff"},
{"offset":0.96,"color":"#66f"},{"offset":0.9609,"color":"#fff"},{"offset":0.9711,"color":"#fff"},
{"offset":0.972,"color":"#66f"},{"offset":0.9729,"color":"#fff"},{"offset":0.9831,"color":"#fff"},
{"offset":0.984,"color":"#66f"},{"offset":0.9849,"color":"#fff"},{"offset":0.9951,"color":"#fff"},
{"offset":0.996,"color":"#66f"},{"offset":0.9969,"color":"#fff"},{"offset":1,"color":"#fff"}
                               ]}},
                      "encoding": {
                        "x": {"field": "edge", "type": "quantitative", "scale": {"domain": [0, 9], "nice": false, "zero": false},
                              "axis": {"orient": "bottom", "values": [1, 2, 4, 5, 7, 8], "tickSize": -15, "labels": false, "title": null}},
                        "y": {"field": "high", "type": "quantitative", "scale": {"domain": [0.85, 1.1325], "nice": false, "zero": false},
                              "axis": {"orient": "left", "values": [0.9, 1, 1.1], "tickSize": -18, "labels": false, "title": null}},
                        "y2": {"field": "low"}
                      }
                    },
                    {
                      "data": {"values": [{}]},
                      "mark": {"type": "rule", "strokeDash": [5, 4], "strokeWidth": 2, "color": "black"},
                      "encoding": {
                        "y": {"datum": 1, "type": "quantitative",
                              "axis": {"orient": "left", "values": [0.86, 0.88, 0.92, 0.94, 0.96, 0.98, 1.02, 1.04, 1.06, 1.08, 1.12], "tickSize": -8, "labels": false, "title": null}}
                      }
                    },
                    {
                      "data": {"name": "edges"},
                      "mark": {"type": "rule", "color": "#505050", "strokeWidth": 1.4},
                      "encoding": {"x": {"field": "edge", "type": "quantitative", "axis": null}}
                    },
                    {
                      "data": {"name": "ratio"},
                      "mark": {"type": "rule", "strokeWidth": 2.6, "color": "black"},
                      "encoding": {
                        "x": {"field": "lo", "type": "quantitative", "bin": "binned",
                              "axis": {"orient": "bottom", "values": [0.5, 1.5, 2.5, 3.5, 4.5, 5.5, 6.5, 7.5, 8.5], "ticks": false,
                                       "labelExpr": "['< 2.0', '2.0–2.7', '> 2.7'][floor(datum.value) % 3]",
                                       "labelFontSize": 22.5, "labelBaseline": "alphabetic", "labelPadding": 27.6,
                                       "title": "|φₘₐₓ - φₘᵢₙ| :", "titleFontSize": 22, "titleAlign": "left", "titleBaseline": "alphabetic", "titleX": -131, "titleY": 27.6, "titleAngle": 0}},
                        "x2": {"field": "hi"},
                        "y": {"field": "low", "type": "quantitative",
                              "axis": {"orient": "left", "values": [0.9, 1, 1.1], "ticks": false,
                                       "labelExpr": "datum.value == 1 ? '1' : format(datum.value, '.1f')",
                                       "labelFontSize": 22, "labelPadding": 6, "labelBaseline": "alphabetic", "labelOffset": 7.3, "labelAlign": "right",
                                       "title": "Data / Bkg.", "titleFontSize": 17.5, "titleAngle": 270, "titleAlign": "center", "titleBaseline": "alphabetic", "titleX": -53, "titleY": 49}},
                        "y2": {"field": "high"}
                      }
                    },
                    {
                      "data": {"name": "ratio"},
                      "mark": {"type": "point", "filled": true, "color": "black", "size": 55, "opacity": 1},
                      "encoding": {
                        "x": {"field": "lo", "type": "quantitative", "bin": "binned", "axis": null},
                        "x2": {"field": "hi"},
                        "y": {"field": "ratio", "type": "quantitative",
                              "axis": {"orient": "right", "values": [0.9, 1, 1.1], "tickSize": -18, "labels": false, "title": null}}
                      }
                    },
                    {
                      "data": {"values": [{}]},
                      "mark": {"type": "text", "text": "p", "align": "right", "baseline": "alphabetic", "fontSize": 26, "dy": 61.3},
                      "encoding": {"x": {"datum": 0.9, "type": "quantitative", "axis": null},
                                   "y": {"datum": 0.85, "type": "quantitative",
                                         "axis": {"orient": "right", "values": [0.86, 0.88, 0.92, 0.94, 0.96, 0.98, 1.02, 1.04, 1.06, 1.08, 1.12], "tickSize": -8, "labels": false, "title": null}}}
                    },
                    {
                      "data": {"values": [{}]},
                      "mark": {"type": "text", "text": "bal", "align": "left", "baseline": "alphabetic", "fontSize": 17, "dx": 0.5, "dy": 50.3},
                      "encoding": {"x": {"datum": 0.9, "type": "quantitative", "axis": null}, "y": {"datum": 0.85, "type": "quantitative", "axis": null}}
                    },
                    {
                      "data": {"values": [{}]},
                      "mark": {"type": "text", "text": "T", "align": "left", "baseline": "bottom", "fontSize": 16, "dx": 0.5, "dy": 70.3},
                      "encoding": {"x": {"datum": 0.9, "type": "quantitative", "axis": null}, "y": {"datum": 0.85, "type": "quantitative", "axis": null}}
                    },
                    {
                      "data": {"values": [{}]},
                      "mark": {"type": "text", "text": "<\u20090.6", "align": "left", "baseline": "alphabetic", "fontSize": 26, "dx": 25, "dy": 61.3},
                      "encoding": {"x": {"datum": 0.9, "type": "quantitative", "axis": null}, "y": {"datum": 0.85, "type": "quantitative", "axis": null}}
                    },
                    {
                      "data": {"values": [{}]},
                      "mark": {"type": "text", "text": "0.6\u2009<\u2009p", "align": "right", "baseline": "alphabetic", "fontSize": 26, "dy": 61.3},
                      "encoding": {"x": {"datum": 4.58, "type": "quantitative", "axis": null}, "y": {"datum": 0.85, "type": "quantitative", "axis": null}}
                    },
                    {
                      "data": {"values": [{}]},
                      "mark": {"type": "text", "text": "bal", "align": "left", "baseline": "alphabetic", "fontSize": 17, "dx": 0.5, "dy": 50.3},
                      "encoding": {"x": {"datum": 4.58, "type": "quantitative", "axis": null}, "y": {"datum": 0.85, "type": "quantitative", "axis": null}}
                    },
                    {
                      "data": {"values": [{}]},
                      "mark": {"type": "text", "text": "T", "align": "left", "baseline": "bottom", "fontSize": 16, "dx": 0.5, "dy": 70.3},
                      "encoding": {"x": {"datum": 4.58, "type": "quantitative", "axis": null}, "y": {"datum": 0.85, "type": "quantitative", "axis": null}}
                    },
                    {
                      "data": {"values": [{}]},
                      "mark": {"type": "text", "text": "<\u20090.9", "align": "left", "baseline": "alphabetic", "fontSize": 26, "dx": 33, "dy": 61.3},
                      "encoding": {"x": {"datum": 4.58, "type": "quantitative", "axis": null}, "y": {"datum": 0.85, "type": "quantitative", "axis": null}}
                    },
                    {
                      "data": {"values": [{}]},
                      "mark": {"type": "text", "text": "0.9\u2009<\u2009p", "align": "right", "baseline": "alphabetic", "fontSize": 26, "dy": 61.3},
                      "encoding": {"x": {"datum": 7.468, "type": "quantitative", "axis": null}, "y": {"datum": 0.85, "type": "quantitative", "axis": null}}
                    },
                    {
                      "data": {"values": [{}]},
                      "mark": {"type": "text", "text": "bal", "align": "left", "baseline": "alphabetic", "fontSize": 17, "dx": 0.5, "dy": 50.3},
                      "encoding": {"x": {"datum": 7.468, "type": "quantitative", "axis": null}, "y": {"datum": 0.85, "type": "quantitative", "axis": null}}
                    },
                    {
                      "data": {"values": [{}]},
                      "mark": {"type": "text", "text": "T", "align": "left", "baseline": "bottom", "fontSize": 16, "dx": 0.5, "dy": 70.3},
                      "encoding": {"x": {"datum": 7.468, "type": "quantitative", "axis": null}, "y": {"datum": 0.85, "type": "quantitative", "axis": null}}
                    }
                  ],
                  "resolve": {"axis": {"x": "independent", "y": "independent"}}
                }
              ],
              "spacing": 0,
              "bounds": "flush"
            }
          ],
          "spacing": 132,
          "bounds": "flush"
        }
      ],
      "spacing": 22.7,
      "bounds": "flush"
    }
  ],
  "spacing": 0,
  "bounds": "flush"
}
